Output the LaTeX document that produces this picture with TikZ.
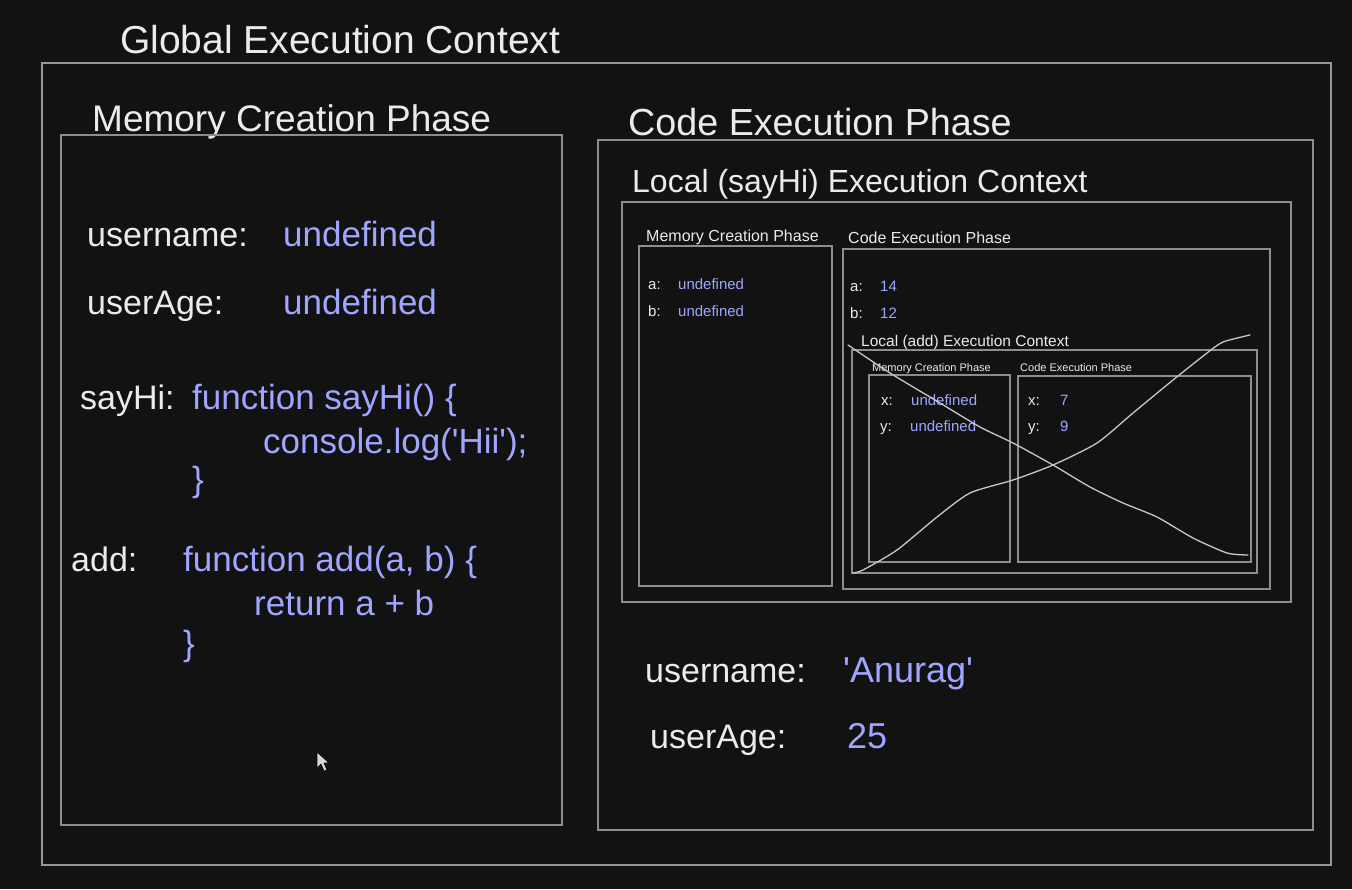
\documentclass[tikz,border=0pt]{standalone}
\usepackage{fontspec}
\setmainfont{Liberation Sans}
\definecolor{bg}{RGB}{18,18,18}
\definecolor{boxgray}{RGB}{140,140,145}
\definecolor{outergray}{RGB}{150,150,160}
\definecolor{txt}{RGB}{235,235,235}
\definecolor{blueval}{RGB}{160,165,255}
\definecolor{crossline}{RGB}{200,200,200}
\tikzset{
  bx/.style={draw=boxgray, line width=1.4pt},
  obx/.style={draw=outergray, line width=1.4pt},
  lbl/.style={anchor=base west, inner sep=0pt, text=txt},
  val/.style={lbl, text=blueval},
  fs/.style={font=\fontsize{#1}{#1}\selectfont},
  xline/.style={draw=crossline, line width=1.3pt, line join=round, line cap=round}
}
\begin{document}
\begin{tikzpicture}[x=1pt,y=-1pt]
\fill[bg] (0,0) rectangle (1352,889);
\useasboundingbox (0,0) rectangle (1352,889);

% ---------- Global ----------
\node[lbl,fs=39] (gtitle) at (120,53) {Global Execution Context};
\draw[obx] (42,63) rectangle (1331,865);

% ---------- Memory Creation Phase (global) ----------
\node[lbl,fs=37] (mtitle) at (92,131) {Memory Creation Phase};
\draw[bx] (61,135) rectangle (562,825);

\node[lbl,fs=34] (k1) at (87,246) {username:};
\node[val,fs=35] (v1) at (283,246) {undefined};
\node[lbl,fs=34] (k2) at (87,314) {userAge:};
\node[val,fs=35] (v2) at (283,314) {undefined};

\node[lbl,fs=34] (k3) at (80,409) {sayHi:};
\node[val,fs=35] (f1) at (192,409) {function sayHi() \{};
\node[val,fs=35] (f2) at (263,453) {console.log(\textquotesingle Hii\textquotesingle);};
\node[val,fs=35] (f3) at (192,491) {\}};

\node[lbl,fs=34] (k4) at (71,571) {add:};
\node[val,fs=35] (g1) at (183,571) {function add(a, b) \{};
\node[val,fs=35] (g2) at (254,615) {return a + b};
\node[val,fs=35] (g3) at (183,655) {\}};

% ---------- Code Execution Phase (global) ----------
\node[lbl,fs=37.7] (ctitle) at (628,135) {Code Execution Phase};
\draw[bx] (598,140) rectangle (1313,830);

\node[lbl,fs=32] (ltitle) at (632,192) {Local (sayHi) Execution Context};
\draw[bx] (622,202) rectangle (1291,602);

% sayHi memory
\node[lbl,fs=16] (smt) at (646,241) {Memory Creation Phase};
\draw[bx] (639,246) rectangle (832,586);
\node[lbl,fs=15] (sa) at (648,289) {a:};
\node[val,fs=15] (sav) at (678,289) {undefined};
\node[lbl,fs=15] (sb) at (648,316) {b:};
\node[val,fs=15] (sbv) at (678,316) {undefined};

% sayHi code
\node[lbl,fs=16] (sct) at (848,243) {Code Execution Phase};
\draw[bx] (843,249) rectangle (1270,589);
\node[lbl,fs=15] (ca) at (850,291) {a:};
\node[val,fs=15] (cav) at (880,291) {14};
\node[lbl,fs=15] (cb) at (850,318) {b:};
\node[val,fs=15] (cbv) at (880,318) {12};

% add context
\node[lbl,fs=15.5] (atitle) at (861,346) {Local (add) Execution Context};
\draw[bx] (852,350) rectangle (1257,573);

\node[lbl,fs=11] (amt) at (872,371) {Memory Creation Phase};
\draw[bx] (869,375) rectangle (1010,562);
\node[lbl,fs=15] (ax) at (881,405) {x:};
\node[val,fs=15] (axv) at (911,405) {undefined};
\node[lbl,fs=15] (ay) at (880,431) {y:};
\node[val,fs=15] (ayv) at (910,431) {undefined};

\node[lbl,fs=11] (act) at (1020,371) {Code Execution Phase};
\draw[bx] (1018,376) rectangle (1251,562);
\node[lbl,fs=15] (cx) at (1028,405) {x:};
\node[val,fs=15] (cxv) at (1060,405) {7};
\node[lbl,fs=15] (cy) at (1028,431) {y:};
\node[val,fs=15] (cyv) at (1060,431) {9};

% cross-out strokes
\draw[xline] plot[smooth, tension=0.4] coordinates {
  (848,345) (890,373) (940,403) (980,427) (1013,443) (1053,465)
  (1090,487) (1123,503) (1157,517) (1193,538) (1227,553) (1248,555)};
\draw[xline] plot[smooth, tension=0.4] coordinates {
  (853,573) (863,570) (897,550) (937,517) (970,493) (1013,480)
  (1053,465) (1097,443) (1133,413) (1173,380) (1207,353) (1223,342) (1250,335)};

% global code execution values
\node[lbl,fs=34] (k5) at (645,682) {username:};
\node[val,fs=36] (v5) at (843,682) {\textquotesingle Anurag\textquotesingle};
\node[lbl,fs=34] (k6) at (650,748) {userAge:};
\node[val,fs=36] (v6) at (847,748) {25};

% mouse pointer
\filldraw[fill=white!85!black, draw=black, line width=0.6pt]
  (317,752) -- (317,768) -- (321,764) -- (324,771) -- (327,770) -- (324,763) -- (329,763) -- cycle;
\end{tikzpicture}
\end{document}
